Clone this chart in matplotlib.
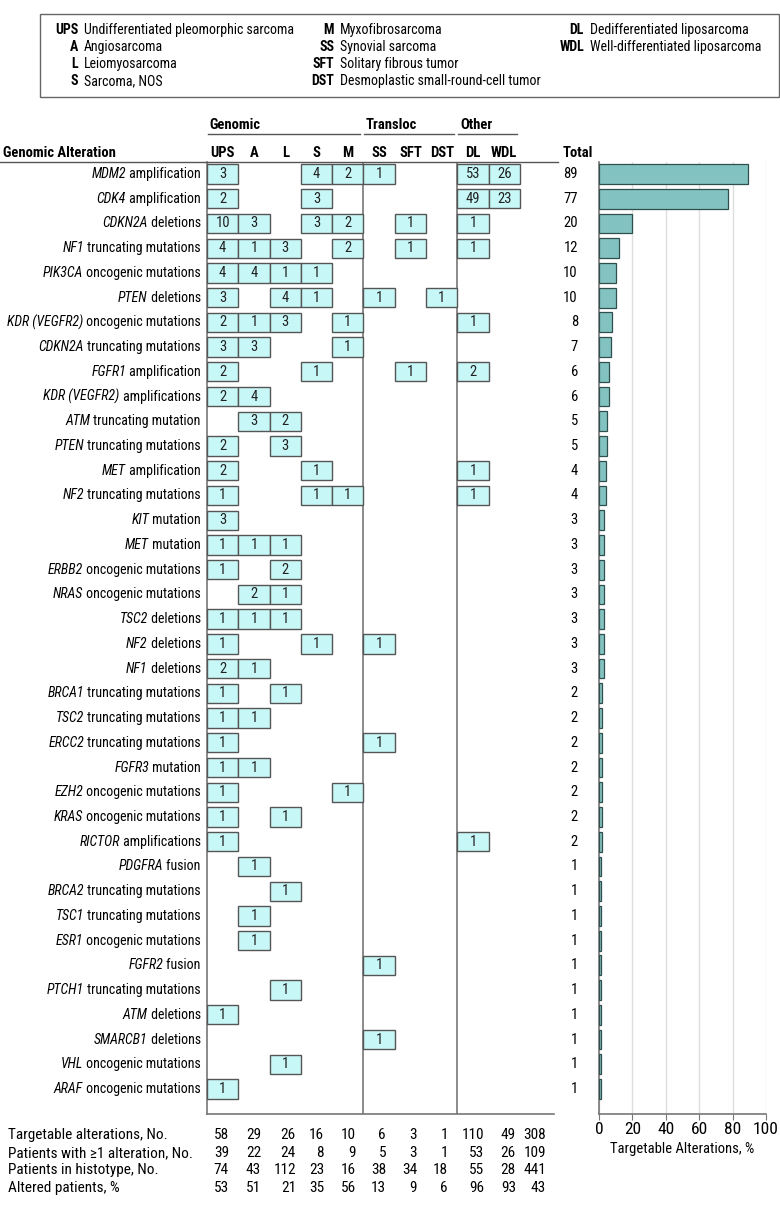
import numpy as np
import matplotlib.pyplot as plt
import matplotlib.transforms as mtransforms
from matplotlib.patches import Rectangle
from matplotlib.lines import Line2D
from matplotlib import font_manager

# ---- data ----
histotypes = ['UPS', 'A', 'L', 'S', 'M', 'SS', 'SFT', 'DST', 'DL', 'WDL']
legend_abbr = ['UPS', 'A', 'L', 'S', 'M', 'SS', 'SFT', 'DST', 'DL', 'WDL']
legend_names = ['Undifferentiated pleomorphic sarcoma', 'Angiosarcoma', 'Leiomyosarcoma',
                'Sarcoma, NOS', 'Myxofibrosarcoma', 'Synovial sarcoma', 'Solitary fibrous tumor',
                'Desmoplastic small-round-cell tumor', 'Dedifferentiated liposarcoma',
                'Well-differentiated liposarcoma']
groups = ['Genomic', 'Transloc', 'Other']
group_span = [(0, 5), (5, 8), (8, 10)]

genes = ['MDM2', 'CDK4', 'CDKN2A', 'NF1', 'PIK3CA', 'PTEN', 'KDR (VEGFR2)', 'CDKN2A',
         'FGFR1', 'KDR (VEGFR2)', 'ATM', 'PTEN', 'MET', 'NF2', 'KIT', 'MET', 'ERBB2', 'NRAS',
         'TSC2', 'NF2', 'NF1', 'BRCA1', 'TSC2', 'ERCC2', 'FGFR3', 'EZH2', 'KRAS', 'RICTOR',
         'PDGFRA', 'BRCA2', 'TSC1', 'ESR1', 'FGFR2', 'PTCH1', 'ATM', 'SMARCB1', 'VHL', 'ARAF']
alteration = ['amplification', 'amplification', 'deletions', 'truncating mutations',
              'oncogenic mutations', 'deletions', 'oncogenic mutations', 'truncating mutations',
              'amplification', 'amplifications', 'truncating mutation', 'truncating mutations',
              'amplification', 'truncating mutations', 'mutation', 'mutation',
              'oncogenic mutations', 'oncogenic mutations', 'deletions', 'deletions', 'deletions',
              'truncating mutations', 'truncating mutations', 'truncating mutations', 'mutation',
              'oncogenic mutations', 'oncogenic mutations', 'amplifications', 'fusion',
              'truncating mutations', 'truncating mutations', 'oncogenic mutations', 'fusion',
              'truncating mutations', 'deletions', 'deletions', 'oncogenic mutations',
              'oncogenic mutations']
#          UPS A  L  S  M SS SFT DST DL WDL
counts = [[3, 0, 0, 4, 2, 1, 0, 0, 53, 26],
          [2, 0, 0, 3, 0, 0, 0, 0, 49, 23],
          [10, 3, 0, 3, 2, 0, 1, 0, 1, 0],
          [4, 1, 3, 0, 2, 0, 1, 0, 1, 0],
          [4, 4, 1, 1, 0, 0, 0, 0, 0, 0],
          [3, 0, 4, 1, 0, 1, 0, 1, 0, 0],
          [2, 1, 3, 0, 1, 0, 0, 0, 1, 0],
          [3, 3, 0, 0, 1, 0, 0, 0, 0, 0],
          [2, 0, 0, 1, 0, 0, 1, 0, 2, 0],
          [2, 4, 0, 0, 0, 0, 0, 0, 0, 0],
          [0, 3, 2, 0, 0, 0, 0, 0, 0, 0],
          [2, 0, 3, 0, 0, 0, 0, 0, 0, 0],
          [2, 0, 0, 1, 0, 0, 0, 0, 1, 0],
          [1, 0, 0, 1, 1, 0, 0, 0, 1, 0],
          [3, 0, 0, 0, 0, 0, 0, 0, 0, 0],
          [1, 1, 1, 0, 0, 0, 0, 0, 0, 0],
          [1, 0, 2, 0, 0, 0, 0, 0, 0, 0],
          [0, 2, 1, 0, 0, 0, 0, 0, 0, 0],
          [1, 1, 1, 0, 0, 0, 0, 0, 0, 0],
          [1, 0, 0, 1, 0, 1, 0, 0, 0, 0],
          [2, 1, 0, 0, 0, 0, 0, 0, 0, 0],
          [1, 0, 1, 0, 0, 0, 0, 0, 0, 0],
          [1, 1, 0, 0, 0, 0, 0, 0, 0, 0],
          [1, 0, 0, 0, 0, 1, 0, 0, 0, 0],
          [1, 1, 0, 0, 0, 0, 0, 0, 0, 0],
          [1, 0, 0, 0, 1, 0, 0, 0, 0, 0],
          [1, 0, 1, 0, 0, 0, 0, 0, 0, 0],
          [1, 0, 0, 0, 0, 0, 0, 0, 1, 0],
          [0, 1, 0, 0, 0, 0, 0, 0, 0, 0],
          [0, 0, 1, 0, 0, 0, 0, 0, 0, 0],
          [0, 1, 0, 0, 0, 0, 0, 0, 0, 0],
          [0, 1, 0, 0, 0, 0, 0, 0, 0, 0],
          [0, 0, 0, 0, 0, 1, 0, 0, 0, 0],
          [0, 0, 1, 0, 0, 0, 0, 0, 0, 0],
          [1, 0, 0, 0, 0, 0, 0, 0, 0, 0],
          [0, 0, 0, 0, 0, 1, 0, 0, 0, 0],
          [0, 0, 1, 0, 0, 0, 0, 0, 0, 0],
          [1, 0, 0, 0, 0, 0, 0, 0, 0, 0]]
totals = [89, 77, 20, 12, 10, 10, 8, 7, 6, 6, 5, 5, 4, 4, 3, 3, 3, 3, 3, 3, 3,
          2, 2, 2, 2, 2, 2, 2, 1, 1, 1, 1, 1, 1, 1, 1, 1, 1]

summary_labels = ['Targetable alterations, No.', 'Patients with \u22651 alteration, No.',
                  'Patients in histotype, No.', 'Altered patients, %']
targetable_no = [58, 29, 26, 16, 10, 6, 3, 1, 110, 49, 308]
patients_altered = [39, 22, 24, 8, 9, 5, 3, 1, 53, 26, 109]
patients_histotype = [74, 43, 112, 23, 16, 38, 34, 18, 55, 28, 441]
altered_pct = [53, 51, 21, 35, 56, 13, 9, 6, 96, 93, 43]

# ---- fonts ----
names = set(f.name for f in font_manager.fontManager.ttflist)
fam = 'DejaVu Sans'
for cand in ['Liberation Sans Narrow', 'Roboto Condensed', 'Open Sans Condensed', 'DejaVu Sans']:
    if cand in names:
        fam = cand
        break
plt.rcParams['font.family'] = [fam, 'DejaVu Sans']
plt.rcParams['font.size'] = 10.5

W, H = 780, 1207
col_w = 31.3
row_h = 24.73
row0 = 174
tab_left, tab_right, tab_top, tab_bot = 207, 554, 162, 1114

def fx(x):
    return x / W

def fy(y):
    return 1 - y / H

fig = plt.figure(figsize=(W / 100, H / 100), dpi=100)
renderer = fig.canvas.get_renderer()

# legend box
fig.add_artist(Rectangle((fx(40), fy(97)), fx(739), 83 / H, fill=False,
                         edgecolor='#666666', lw=1, transform=fig.transFigure))
leg_cols = [(78, 84), (334, 340), (584, 590)]
leg_rows = [30, 47, 64, 81]
for k, (ab, nm) in enumerate(zip(legend_abbr, legend_names)):
    c = 0 if k < 4 else (1 if k < 8 else 2)
    r = k if k < 4 else (k - 4 if k < 8 else k - 8)
    fig.text(fx(leg_cols[c][0]), fy(leg_rows[r]), ab, ha='right', va='center',
             fontweight='bold', fontsize=10)
    fig.text(fx(leg_cols[c][1]), fy(leg_rows[r]), nm, ha='left', va='center', fontsize=10)

# table axes
ax = fig.add_axes([fx(tab_left), fy(tab_bot), (tab_right - tab_left) / W, (tab_bot - tab_top) / H])
ax.set_xlim(0, (tab_right - tab_left) / col_w)
ax.set_ylim((tab_bot - row0) / row_h, (tab_top - row0) / row_h)
ax.set_xticks([])
ax.set_yticks([])
for s in ['top', 'right']:
    ax.spines[s].set_visible(False)
for s in ['left', 'bottom']:
    ax.spines[s].set_color('#777777')
    ax.spines[s].set_linewidth(1.2)
ax.patch.set_alpha(0)
for g in group_span[1:]:
    ax.axvline(g[0], color='#777777', lw=1.2)

inv = ax.transData.inverted()
for i, row in enumerate(counts):
    # regular part first, then the italic gene name to its left
    t = ax.text(-0.2, i, ' ' + alteration[i], ha='right', va='center', fontsize=10,
                clip_on=False)
    bb = t.get_window_extent(renderer)
    x0 = inv.transform((bb.x0, 0))[0]
    ax.text(x0, i, genes[i], ha='right', va='center', fontsize=10, style='italic',
            clip_on=False)
    for j, v in enumerate(row):
        if v > 0:
            ax.add_patch(Rectangle((j, i - 0.39), 1, 0.78, facecolor='#c8f7f7',
                                   edgecolor='#555555', lw=1, zorder=3))
            ax.text(j + 0.5, i, str(v), ha='center', va='center', fontsize=10.5,
                    color='#222222', zorder=4)
    ax.text(11.85, i, str(totals[i]), ha='right', va='center', fontsize=10.5, clip_on=False)

# headers
tr = mtransforms.blended_transform_factory(ax.transData, fig.transFigure)
for j, h in enumerate(histotypes):
    ax.text(j + 0.5, fy(153), h, transform=tr, ha='center', va='center',
            fontweight='bold', fontsize=10.5)
ax.text(11.37, fy(153), 'Total', transform=tr, ha='left', va='center',
        fontweight='bold', fontsize=10.5)
fig.text(fx(3), fy(153), 'Genomic Alteration', ha='left', va='center',
         fontweight='bold', fontsize=10.5)
for g, (a, b) in zip(groups, group_span):
    ax.text(a + 0.08, fy(125), g, transform=tr, ha='left', va='center',
            fontweight='bold', fontsize=10.5)
    ax.add_line(Line2D([a + 0.03, b - 0.1], [fy(134), fy(134)], transform=tr,
                       color='#555555', lw=1, clip_on=False))
fig.add_artist(Line2D([0, fx(558)], [fy(162), fy(162)], color='#555555', lw=1))

# summary rows below the table
num_x = [0.70, 1.73, 2.84, 3.74, 4.76, 5.72, 6.71, 7.70, 8.85, 9.87, 10.83]
sum_rows = [1135, 1153, 1170, 1188]
for lab, vals, yy in zip(summary_labels,
                         [targetable_no, patients_altered, patients_histotype, altered_pct],
                         sum_rows):
    fig.text(fx(8), fy(yy), lab, ha='left', va='center', fontsize=11)
    for x, v in zip(num_x, vals):
        ax.text(x, fy(yy), str(v), transform=tr, ha='right', va='center', fontsize=11)

# bar chart
bx = fig.add_axes([fx(599), fy(tab_bot), (766 - 599) / W, (tab_bot - tab_top) / H])
bx.set_xlim(0, 100)
bx.set_ylim(ax.get_ylim())
bx.barh(np.arange(len(totals)), totals, height=0.8, color='#82c3c1',
        edgecolor='#2f4f4f', lw=0.9, zorder=3)
bx.set_xticks([0, 20, 40, 60, 80, 100])
bx.set_yticks([])
bx.grid(axis='x', color='#dddddd', lw=1, zorder=0)
for s in ['top', 'right']:
    bx.spines[s].set_visible(False)
for s in ['left', 'bottom']:
    bx.spines[s].set_color('#777777')
    bx.spines[s].set_linewidth(1.2)
bx.tick_params(axis='x', length=4, color='#777777', labelsize=12.5, pad=2)
bx.set_xlabel('Targetable Alterations, %', fontsize=10.5, labelpad=3)
bx.patch.set_alpha(0)

fig.savefig('out.png', dpi=100)
